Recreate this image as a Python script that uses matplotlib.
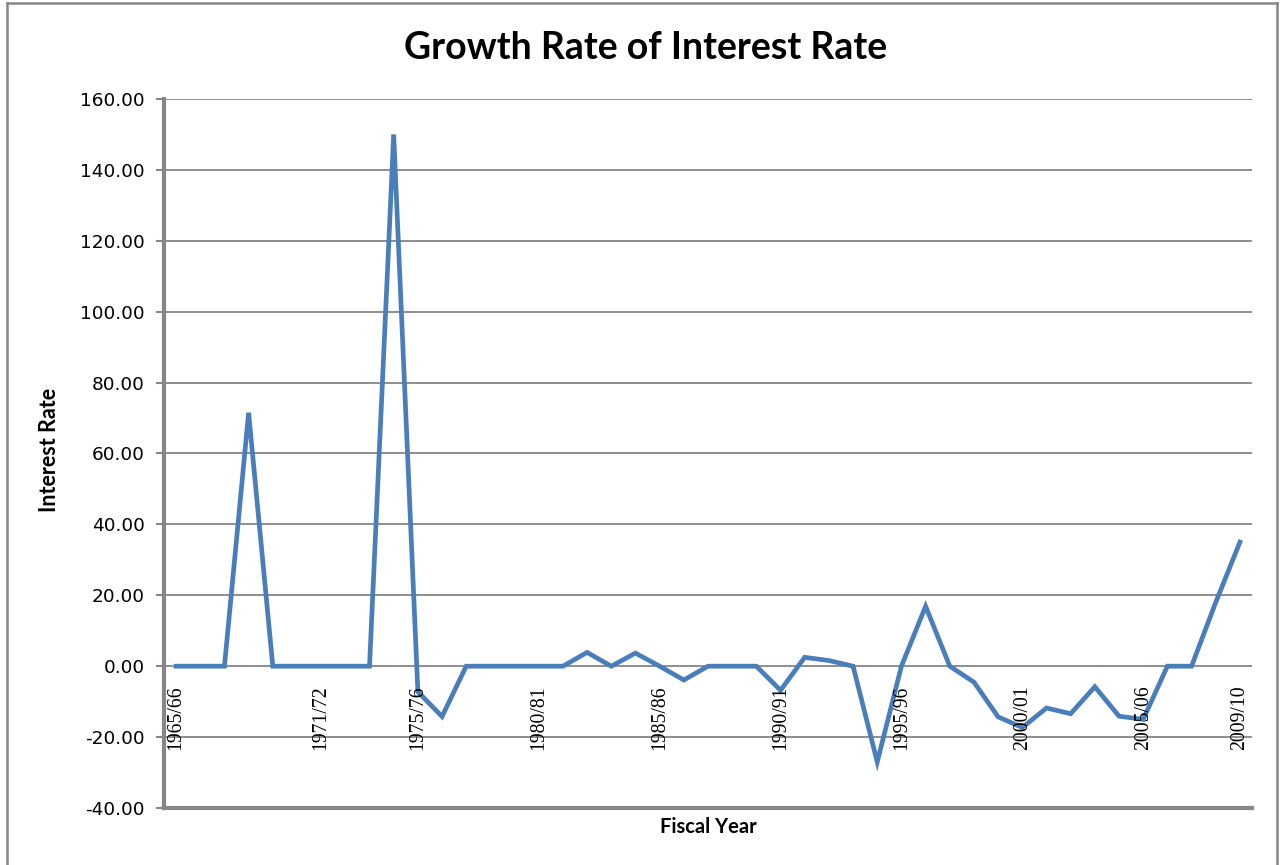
import matplotlib
matplotlib.use("Agg")
import matplotlib.pyplot as plt
import matplotlib.transforms as mtransforms
from matplotlib.lines import Line2D

# fiscal years 1965/66 .. 2009/10
years = [f"{y}/{(y + 1) % 100:02d}" for y in range(1965, 2010)]

growth = [0, 0, 0, 71.5, 0, 0, 0, 0, 0, 150.0,
          -7.2, -14.2, 0, 0, 0, 0, 0, 3.9, 0, 3.7,
          0, -3.9, 0, 0, 0, -6.8, 2.5, 1.6, 0, -27.0,
          0, 16.9, 0, -4.5, -14.3, -17.3, -11.8, -13.4, -5.8, -14.1,
          -15.0, 0, 0, 18.0, 35.0]

shown = [0, 6, 10, 15, 20, 25, 30, 35, 40, 44]
yticks = list(range(-40, 161, 20))

fig = plt.figure(figsize=(12.84, 8.65), dpi=100)
ax = fig.add_axes([164 / 1284, 1 - 808 / 865, (1252 - 164) / 1284, (808 - 99) / 865])

grey = "#868686"
x = list(range(len(growth)))
ax.plot(x, growth, color="#4A7EBB", lw=3.4, solid_joinstyle="miter", zorder=3)

ax.set_xlim(-0.5, len(growth) - 0.5)
ax.set_ylim(-40, 160)
ax.set_yticks(yticks)
ax.set_yticklabels([f"{v:.2f}" for v in yticks], fontsize=13.3, family="DejaVu Sans")
ax.set_xticks([])
ax.yaxis.grid(True, color=grey, lw=1.3)
ax.set_axisbelow(True)
ax.tick_params(axis="y", length=6, width=1.5, color=grey, pad=8)

for s in ["top", "right"]:
    ax.spines[s].set_visible(False)
for s in ["left", "bottom"]:
    ax.spines[s].set_color(grey)
    ax.spines[s].set_linewidth(3)

# category labels hang below the zero line
off = mtransforms.offset_copy(ax.transData, fig=fig, x=0, y=-19, units="dots")
for i in shown:
    ax.text(i, 0, years[i], transform=off, rotation=90, ha="center", va="top",
            family="Liberation Serif", fontsize=14.2)

fig.text(646 / 1284, 1 - 48 / 865, "Growth Rate of Interest Rate", ha="center", va="center",
         family="Lato", weight="bold", fontsize=27)
fig.text(50 / 1284, 1 - 450 / 865, "Interest Rate", ha="center", va="center", rotation=90,
         family="Lato", weight="bold", fontsize=15.5)
fig.text(708 / 1284, 1 - 827 / 865, "Fiscal Year", ha="center", va="center",
         family="Lato", weight="bold", fontsize=14.5)

# outer chart frame
for xs, ys in [([7 / 1284, 7 / 1284], [0, 1 - 3 / 865]),
               ([7 / 1284, 1277 / 1284], [1 - 3 / 865, 1 - 3 / 865]),
               ([1277 / 1284, 1277 / 1284], [0, 1 - 3 / 865])]:
    fig.add_artist(Line2D(xs, ys, color=grey, lw=1.8, transform=fig.transFigure))

plt.savefig("out.png", dpi=100)
